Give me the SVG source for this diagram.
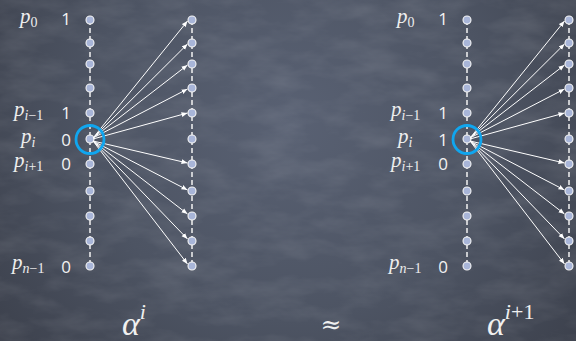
<svg xmlns="http://www.w3.org/2000/svg" width="576" height="341" viewBox="0 0 576 341">
<defs>
<radialGradient id="bg" cx="290" cy="120" r="400" gradientUnits="userSpaceOnUse">
<stop offset="0" stop-color="#596173"/>
<stop offset="0.5" stop-color="#4d5463"/>
<stop offset="1" stop-color="#393d48"/>
</radialGradient>
<filter id="tex" x="0" y="0" width="100%" height="100%">
<feTurbulence type="fractalNoise" baseFrequency="0.02 0.05" numOctaves="4" seed="7" result="n"/>
<feColorMatrix in="n" type="matrix" values="0 0 0 0 1  0 0 0 0 1  0 0 0 0 1  0.18 0 0 0 -0.07"/>
</filter>
<marker id="ah" viewBox="0 0 10 10" refX="10" refY="5" markerWidth="6" markerHeight="6" markerUnits="userSpaceOnUse" orient="auto">
<path d="M0,1 L10,5 L0,9 Z" fill="#ffffff"/>
</marker>
<style>
.dash{stroke:#f2f2f2;stroke-width:1.5;stroke-dasharray:5 3;fill:none}
.dot{fill:#a8b5d8;stroke:#f4f4f4;stroke-width:1.1}
.arr{stroke:#ffffff;stroke-width:1;fill:none;marker-end:url(#ah)}
.sel{fill:none;stroke:#10a6ef;stroke-width:2.8}
.p{font-family:"Liberation Serif",serif;font-style:italic;font-size:21px;fill:#eeeeee}
.sub{font-family:"Liberation Serif",serif;font-size:14px;fill:#eeeeee}
.subi{font-family:"Liberation Serif",serif;font-style:italic;font-size:14px;fill:#eeeeee}
.num{font-family:"Open Sans",sans-serif;font-size:17px;fill:#f2f2f2;text-anchor:middle}
.big{font-family:"Liberation Serif",serif;font-style:italic;font-size:34px;fill:#f0f0f0}
.sup{font-family:"Liberation Serif",serif;font-size:22px;fill:#f0f0f0}
.supi{font-family:"Liberation Serif",serif;font-style:italic;font-size:22px;fill:#f0f0f0}
</style>
<g id="col">
<line class="dash" x1="0" y1="20" x2="0" y2="267"/>
<circle class="dot" cx="0" cy="20" r="4"/>
<circle class="dot" cx="0" cy="43" r="4"/>
<circle class="dot" cx="0" cy="64" r="4"/>
<circle class="dot" cx="0" cy="88" r="4"/>
<circle class="dot" cx="0" cy="113" r="4"/>
<circle class="dot" cx="0" cy="139" r="4"/>
<circle class="dot" cx="0" cy="164" r="4"/>
<circle class="dot" cx="0" cy="191" r="4"/>
<circle class="dot" cx="0" cy="216" r="4"/>
<circle class="dot" cx="0" cy="241" r="4"/>
<circle class="dot" cx="0" cy="266" r="4"/>
</g>
<g id="fan">
<line class="arr" x1="93" y1="138" x2="187.5" y2="21"/>
<line class="arr" x1="93" y1="138" x2="187.5" y2="44"/>
<line class="arr" x1="93" y1="138" x2="187.5" y2="65"/>
<line class="arr" x1="93" y1="138" x2="187.5" y2="89"/>
<line class="arr" x1="93" y1="139" x2="187.5" y2="113"/>
<line class="arr" x1="93" y1="141" x2="187.5" y2="163"/>
<line class="arr" x1="93" y1="141" x2="187.5" y2="190"/>
<line class="arr" x1="93" y1="141" x2="187.5" y2="214"/>
<line class="arr" x1="93" y1="141" x2="187.5" y2="239"/>
<line class="arr" x1="93" y1="141" x2="187.5" y2="264"/>
</g>
</defs>
<rect width="576" height="341" fill="url(#bg)"/>
<rect width="576" height="341" filter="url(#tex)"/>

<g id="left">
<g id="left-col-a"><use href="#col" x="90"/></g>
<g id="left-col-b"><use href="#col" x="192"/></g>
<g id="left-connectors"><use href="#fan"/></g>
<g id="left-sel"><circle class="sel" cx="90" cy="139.5" r="14"/></g>
<g id="left-labels">
<text x="20" y="23"><tspan class="p">p</tspan><tspan class="sub" dy="4">0</tspan></text>
<text x="14" y="116"><tspan class="p">p</tspan><tspan class="subi" dy="4">i</tspan><tspan class="sub">−1</tspan></text>
<text x="21" y="143"><tspan class="p">p</tspan><tspan class="subi" dy="4">i</tspan></text>
<text x="14" y="167"><tspan class="p">p</tspan><tspan class="subi" dy="4">i</tspan><tspan class="sub">+1</tspan></text>
<text x="12" y="269"><tspan class="p">p</tspan><tspan class="subi" dy="4">n</tspan><tspan class="sub">−1</tspan></text>
<text class="num" x="66" y="25">1</text>
<text class="num" x="66" y="119">1</text>
<text class="num" x="66" y="146">0</text>
<text class="num" x="66" y="170">0</text>
<text class="num" x="66" y="273">0</text>
</g>
</g>

<g id="right" transform="translate(377,0)">
<g id="right-col-a"><use href="#col" x="90"/></g>
<g id="right-col-b"><use href="#col" x="192"/></g>
<g id="right-connectors"><use href="#fan"/></g>
<g id="right-sel"><circle class="sel" cx="90" cy="139.5" r="14"/></g>
<g id="right-labels">
<text x="20" y="23"><tspan class="p">p</tspan><tspan class="sub" dy="4">0</tspan></text>
<text x="14" y="116"><tspan class="p">p</tspan><tspan class="subi" dy="4">i</tspan><tspan class="sub">−1</tspan></text>
<text x="21" y="143"><tspan class="p">p</tspan><tspan class="subi" dy="4">i</tspan></text>
<text x="14" y="167"><tspan class="p">p</tspan><tspan class="subi" dy="4">i</tspan><tspan class="sub">+1</tspan></text>
<text x="12" y="269"><tspan class="p">p</tspan><tspan class="subi" dy="4">n</tspan><tspan class="sub">−1</tspan></text>
<text class="num" x="66" y="25">1</text>
<text class="num" x="66" y="119">1</text>
<text class="num" x="66" y="146">1</text>
<text class="num" x="66" y="170">0</text>
<text class="num" x="66" y="273">0</text>
</g>
</g>

<g id="captions">
<text x="122" y="335"><tspan class="big">α</tspan><tspan class="supi" dy="-16">i</tspan></text>
<text x="331" y="333" font-family="DejaVu Serif, serif" font-size="25" fill="#f0f0f0" text-anchor="middle">≈</text>
<text x="487" y="335"><tspan class="big">α</tspan><tspan class="supi" dy="-16">i</tspan><tspan class="sup">+1</tspan></text>
</g>
</svg>
